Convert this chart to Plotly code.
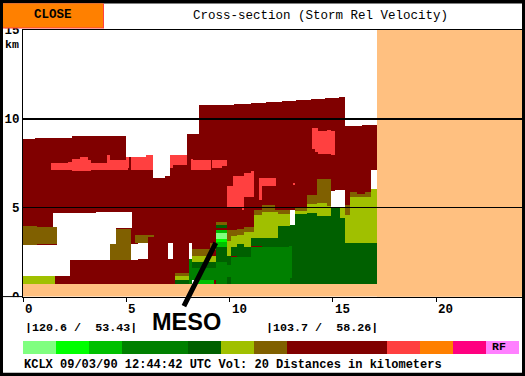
import plotly.graph_objects as go

# ---- data: blocks are (left km, right km, bottom km, top km) ----
dark_red = [(0, .57, .69, 8.89), (.57, 2.36, .69, 8.95), (2.36, 4.97, .69, 9.01), (4.97, 6.28, .69, 7.88),
            (6.28, 6.86, .69, 6.7), (6.86, 7.1, .69, 6.76), (7.1, 7.93, .69, 7.99), (7.93, 8.51, .69, 9.17),
            (8.51, 10.2, .69, 10.8), (10.2, 11.03, .69, 10.86), (11.03, 11.75, .69, 10.92), (11.75, 12.53, .69, 10.97),
            (12.53, 13.21, .69, 11.03), (13.21, 13.93, .69, 11.08), (13.93, 14.6, .69, 11.14), (14.6, 15.29, .69, 11.2),
            (15.29, 15.58, .69, 11.25), (15.58, 16.4, .69, 9.62), (16.4, 17.13, .69, 9.68)]
white = [(1.44, 5.26, 3.84, 4.68), (3.52, 5.26, 3.84, 4.74), (1.63, 4.49, 2.04, 3.84), (0, 2.26, 1.14, 2.88),
         (2.26, 4.2, 2.04, 2.94), (5.22, 5.55, 2.04, 2.94), (5.55, 6.04, 2.1, 2.99), (7.0, 7.25, 2.1, 2.99),
         (8.02, 8.17, 2.1, 2.99), (8.17, 8.27, .69, 1.14), (12.92, 13.16, 4.01, 4.9), (14.9, 15.09, 5.02, 5.92),
         (15.09, 15.58, 5.02, 5.97), (16.84, 17.13, 6.03, 7.15)]
olive = [(0, .66, 2.88, 3.95), (.66, 1.63, 2.94, 3.89), (4.49, 5.22, 2.04, 3.78),
         (4.2, 4.49, 2.04, 2.94), (5.41, 6.04, 2.99, 3.44), (6.04, 6.33, 3.39, 3.44), (7.35, 8.02, 1.14, 1.31),
         (8.17, 9.04, 2.26, 2.66), (9.04, 9.33, 2.6, 2.99), (9.33, 9.86, 4.01, 4.17), (9.86, 10.06, 3.11, 3.72),
         (10.06, 10.35, 3.39, 3.72), (10.35, 10.69, 3.44, 3.78), (10.69, 11.17, 3.61, 3.89), (11.17, 11.56, 4.57, 4.85),
         (11.56, 12.19, 4.74, 5.13), (12.19, 12.92, 4.62, 4.9), (13.16, 13.74, 4.79, 4.96), (13.74, 14.22, 5.19, 5.69),
         (14.22, 14.71, 5.24, 6.59), (14.71, 14.9, 5.07, 6.59), (15.58, 15.82, 4.57, 5.13), (15.82, 16.16, 5.58, 5.86),
         (16.16, 16.55, 5.58, 5.8), (16.55, 16.84, 5.58, 5.86)]
yellow = [(0, 1.54, .69, 1.14), (7.35, 8.02, .92, 1.14), (8.17, 9.33, 1.93, 2.26), (9.86, 10.06, 2.26, 3.11),
          (10.06, 10.35, 2.77, 3.39), (10.35, 10.69, 2.94, 3.44), (10.69, 11.03, 2.77, 3.61), (11.03, 11.17, 3.28, 3.61),
          (11.17, 11.41, 3.28, 4.57), (11.41, 11.56, 3.28, 4.57), (11.56, 12.33, 3.28, 4.74), (12.33, 12.92, 3.95, 4.62),
          (13.16, 13.74, 4.62, 4.79), (13.74, 14.22, 4.68, 5.19), (14.22, 14.71, 4.51, 5.24), (14.71, 14.9, 4.51, 5.07),
          (15.34, 15.58, 4.4, 5.02), (15.58, 15.82, 3.0, 4.57), (15.82, 16.16, 2.99, 5.58), (16.16, 16.55, 2.88, 5.58),
          (16.55, 16.84, 2.99, 5.58), (16.84, 17.13, 2.88, 6.03)]
dark_green = [(7.35, 8.02, .69, .92), (8.17, 9.33, 1.59, 1.93), (9.33, 9.86, 3.84, 4.01), (9.33, 9.86, 1.93, 2.77),
              (9.86, 10.06, 1.76, 2.26), (10.06, 10.35, 2.26, 2.77), (10.35, 10.69, 2.21, 2.94), (10.69, 11.03, 2.1, 2.77),
              (11.03, 11.56, 2.83, 3.28), (11.56, 12.33, 2.77, 3.28), (12.33, 12.92, 2.77, 3.95), (12.92, 13.16, .69, 4.01),
              (13.16, 13.74, .69, 4.62), (13.74, 14.22, .69, 4.68), (14.22, 14.9, .69, 4.51), (14.9, 15.34, .69, 5.02),
              (15.34, 15.58, .69, 4.4), (15.58, 17.13, .69, 3.0), (9.86, 10.06, .69, 1.08)]
green = [(8.02, 8.17, .69, 2.1), (8.17, 9.33, .92, 1.59), (9.33, 9.86, .69, 1.93), (9.86, 10.06, 1.08, 1.76),
         (10.06, 11.03, .69, 2.21), (11.03, 12.92, .69, 2.77), (12.92, 13.01, 1.03, 2.83)]
mid_green = [(8.31, 9.23, .69, .92), (9.33, 9.86, 3.61, 3.72), (9.33, 9.86, 2.77, 3.05)]
bright_green = [(9.33, 9.86, 3.05, 3.22)]
pale_green = [(9.33, 9.86, 3.22, 3.56)]
red = [(1.34, 1.78, 7.15, 7.49), (1.78, 2.16, 7.15, 7.54), (2.16, 2.36, 7.15, 7.6), (2.36, 2.75, 7.04, 7.77),
       (2.75, 3.13, 7.04, 7.83), (3.13, 3.28, 7.04, 7.71), (3.28, 3.86, 7.15, 7.49), (3.86, 4.05, 7.15, 7.54),
       (4.05, 4.2, 7.1, 7.99), (4.2, 5.07, 7.15, 7.66), (4.97, 5.15, 7.21, 7.88), (5.22, 5.65, 7.1, 7.88),
       (5.65, 5.94, 7.15, 7.88), (5.94, 6.28, 7.15, 7.94), (7.1, 7.25, 7.26, 7.99), (7.25, 7.68, 7.38, 7.99),
       (7.68, 7.93, 7.43, 7.99), (8.12, 8.22, 7.15, 7.77), (8.22, 9.09, 7.15, 7.66), (9.14, 9.62, 7.26, 7.66),
       (9.62, 9.86, 7.32, 7.66), (9.86, 10.15, 5.02, 6.25), (10.15, 10.69, 5.02, 6.81), (10.64, 10.69, 4.85, 5.02),
       (10.69, 11.03, 5.58, 6.98), (11.03, 11.17, 5.58, 7.04), (11.41, 11.56, 5.41, 6.65), (11.56, 12.19, 6.25, 6.65),
       (12.19, 12.24, 6.2, 6.65), (13.06, 13.16, 6.31, 6.37), (13.98, 14.13, 8.33, 9.46), (14.13, 14.27, 8.16, 9.46),
       (14.27, 14.71, 8.05, 9.29), (14.71, 14.9, 8.05, 9.4), (14.9, 15.09, 7.94, 9.34)]
peach = [(17.13, 24.15, 0, 15), (0, 24.15, 0, .69)]

legend_colors = ["#80FF80", "#00FF00", "#00C000", "#008000", "#006000", "#A0C000",
                 "#806000", "#800000", "#FF4040", "#FF8000", "#FF0080", "#FF80FF"]
legend_spans = [1, 1, 1, 2, 1, 1, 1, 3, 1, 1, 1, 1]
legend_unit_km = 1.6

x_ticks = [0, 5, 10, 15, 20]
y_ticks = [0, 5, 10, 15]
grid_levels = [5, 10]
meso_x = [7.75, 9.33]
meso_y = [-0.62, 3.02]

# ---- layout geometry ----
W, H = 525, 376
L, R, T, B = 23, 3, 29.5, 22
PW, PH = W - L - R, H - T - B
def px(x): return (x - L) / PW
def py(y): return (H - B - y) / PH
X_MAX = 24.15

fig = go.Figure()
def blocks(rows, color):
    fig.add_bar(x=[(r[0] + r[1]) / 2 for r in rows], width=[r[1] - r[0] for r in rows],
                base=[r[2] for r in rows], y=[r[3] - r[2] for r in rows],
                marker=dict(color=color, line=dict(width=0)), hoverinfo="skip", showlegend=False)

for rows, c in [(peach, "#FFC080"), (dark_red, "#800000"), (white, "#FFFFFF"), (olive, "#806000"),
                (yellow, "#A0C000"), (dark_green, "#006000"), (green, "#008000"), (mid_green, "#00C000"),
                (bright_green, "#00FF00"), (pale_green, "#80FF80"), (red, "#FF4040")]:
    blocks(rows, c)

# grid lines on top of the marks: hairline bars under one pixel tall, which snap to one crisp row
KM_PER_PX = 15 / (296.5 - T)
blocks([(0, X_MAX, v - KM_PER_PX * 0.25, v + KM_PER_PX * 0.25) for v in grid_levels], "black")

# pointer from the MESO label to the feature
fig.add_annotation(x=meso_x[1], y=meso_y[1], ax=meso_x[0], ay=meso_y[0], xref="x", yref="y", axref="x", ayref="y",
                   text="", showarrow=True, arrowhead=0, arrowwidth=5, arrowcolor="black", standoff=0)

# colour legend
pos = 0
for c, s in zip(legend_colors, legend_spans):
    fig.add_bar(x=[pos + s * legend_unit_km / 2], width=[s * legend_unit_km], base=[0], y=[1],
                marker=dict(color=c, line=dict(width=0)), yaxis="y2", hoverinfo="skip", showlegend=False)
    pos += s * legend_unit_km

MONO = "Liberation Mono"
def text(s, x, y, size, bold=True, family=MONO, color="black", xanchor="center"):
    fig.add_annotation(text=f"<b>{s}</b>" if bold else s, x=px(x), y=py(y), xref="paper", yref="paper",
                       showarrow=False, xanchor=xanchor, yanchor="middle",
                       font=dict(family=family, size=size, color=color), borderpad=0)

text("CLOSE", 53, 14.5, 12.5)
text("Cross-section (Storm Rel Velocity)", 320, 15, 12.5, bold=False)
text("km", 4, 44, 11.5, xanchor="left")
text("|120.6 /\u00a0\u00a053.43|", 81, 328, 11.7)
text("|103.7 /\u00a0\u00a058.26|", 321.5, 328, 11.7)
text("KCLX 09/03/90 12:44:42 UTC Vol: 20 Distances in kilometers", 232.5, 365, 12)
text("RF", 499, 346, 11.5)
text("MESO", 186.5, 321.5, 23.5, family="Liberation Sans")
for t in x_ticks:
    fig.add_annotation(text=f"<b>{t}</b>", x=t, y=py(310), xref="x", yref="paper", showarrow=False,
                       xanchor="left", yanchor="middle", xshift=0,
                       font=dict(family=MONO, size=12.5, color="black"))

def rect(x0, y0, x1, y1, color, layer="above"):
    return dict(type="rect", xref="paper", yref="paper", x0=px(x0), x1=px(x1), y0=py(y0), y1=py(y1),
                fillcolor=color, line=dict(width=0), layer=layer)

fig.update_layout(
    width=W, height=H, margin=dict(l=L, r=R, t=T, b=B, pad=0, autoexpand=False),
    paper_bgcolor="black", plot_bgcolor="white", barmode="overlay", bargap=0, showlegend=False,
    xaxis=dict(range=[0, X_MAX], tickvals=x_ticks, showticklabels=False, ticks="outside", ticklen=4, tickwidth=1,
               tickcolor="black", showgrid=False, zeroline=False, showline=True, linecolor="black", linewidth=1,
               mirror=True, anchor="y"),
    yaxis=dict(range=[0, 15], domain=[py(296.5), 1], tickvals=y_ticks, ticktext=[f"<b>{v}</b>" for v in y_ticks],
               tickfont=dict(family=MONO, size=12.5, color="black"), ticks="", ticklabelstandoff=0, showgrid=False,
               zeroline=False, showline=True, linecolor="black", linewidth=1),
    yaxis2=dict(range=[0, 1], domain=[py(354), py(341)], visible=False, anchor="x"),
    shapes=[rect(3, 3, 522, 372.7, "white", "below"),
            rect(3, 3, 104, 28, "#FF4040"), rect(3, 3, 103, 27, "#FF8000"),
            rect(3, 297, 22, 304, "white"), rect(3, 296, 23, 297, "black")],
)

fig.write_html("out.html", config=dict(displayModeBar=False),
               post_script="document.body.style.margin='0';document.body.style.background='black';document.body.style.overflow='hidden';")
